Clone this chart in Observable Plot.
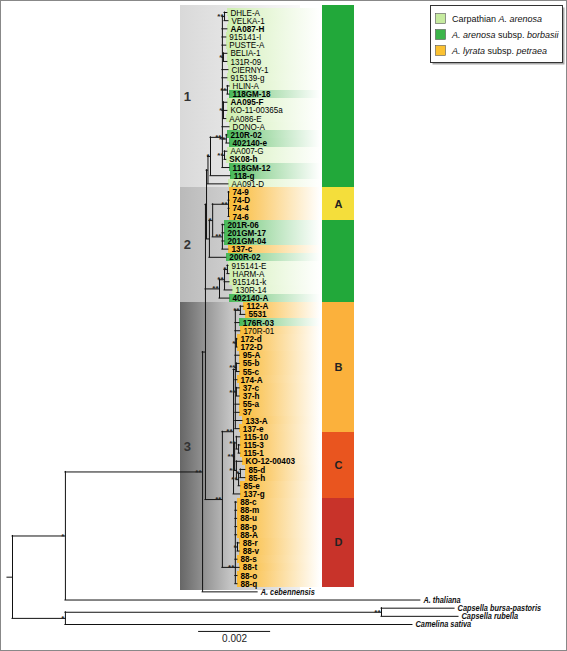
<!DOCTYPE html>
<html><head><meta charset="utf-8">
<script src="https://cdn.jsdelivr.net/npm/d3@7"></script>
<script src="https://cdn.jsdelivr.net/npm/@observablehq/plot@0.6"></script>
<style>html,body{margin:0;padding:0;background:#fff}</style>
</head><body><div id="chart"></div>
<script>
// ---------- DATA ----------
// depth = distance from root in 10^-3 substitutions/site
// internal nodes: [id, parent, depth, support, optional drawn row position]
const internalNodes = [
  ["root", null, 0, ""],
  ["N1", "root", 1.47, "*"],
  ["N2", "root", 1.47, "*"],
  ["N3", "N1", 5.28, "**"],
  ["Ncap", "N2", 10.25, "**"],
  ["Nar", "N3", 5.36, ""],
  ["K", "Nar", 5.39, ""],
  ["C1", "K", 5.43, ""],
  ["P", "C1", 5.50, "*"],
  ["Q", "P", 5.83, "**", 15.3],
  ["DV", "Q", 5.89, "**"],
  ["BC", "Q", 5.86, "*"],
  ["HL", "Q", 5.97, "**"],
  ["AK", "Q", 5.86, "*"],
  ["R", "Q", 5.94, "**"],
  ["S", "Q", 5.89, "**"],
  ["U", "K", 5.47, ""],
  ["T", "U", 5.56, "*"],
  ["G74", "T", 6.00, "**"],
  ["G201", "T", 5.83, "**"],
  ["V4", "Nar", 5.75, "**"],
  ["V2", "V4", 5.89, "**"],
  ["V1", "V2", 5.97, "*"],
  ["X", "Nar", 5.83, "**"],
  ["Y", "X", 6.14, "**"],
  ["B", "Y", 6.19, ""],
  ["nB1", "B", 6.33, "**"],
  ["n172", "B", 6.22, "*"],
  ["n55", "B", 6.22, "**"],
  ["n37", "B", 6.22, "**"],
  ["Csub", "Y", 6.17, "**"],
  ["c_b", "Csub", 6.22, "**"],
  ["c_a", "c_b", 6.28, ""],
  ["c_f", "Csub", 6.22, "**"],
  ["c_e", "c_f", 6.28, "**"],
  ["c_d", "c_e", 6.33, "*"],
  ["Z88", "X", 6.19, "**", 68],
  ["n88rv", "Z88", 6.25, "*"]
];

// leaves: [name, parent, depth, group (c = Carpathian A. arenosa, b = A. arenosa subsp. borbasii, p = A. lyrata subsp. petraea), bold]
const clade1Leaves = [
  ["DHLE-A", "DV", 5.97, "c", 0], ["VELKA-1", "DV", 6.00, "c", 0], ["AA087-H", "Q", 5.97, "c", 1],
  ["915141-I", "Q", 5.94, "c", 0], ["PUSTE-A", "Q", 5.94, "c", 0], ["BELIA-1", "BC", 5.97, "c", 0],
  ["131R-09", "BC", 5.97, "c", 0], ["CIERNY-1", "Q", 6.00, "c", 0], ["915139-g", "Q", 5.97, "c", 0],
  ["HLIN-A", "HL", 6.03, "c", 0], ["118GM-18", "HL", 6.03, "b", 1], ["AA095-F", "AK", 5.97, "c", 1],
  ["KO-11-00365a", "AK", 5.97, "c", 0], ["AA086-E", "AK", 5.94, "c", 0], ["DONO-A", "Q", 6.03, "c", 0],
  ["210R-02", "R", 5.97, "b", 1], ["402140-e", "R", 6.03, "b", 1], ["AA007-G", "S", 5.97, "c", 0],
  ["SK08-h", "S", 5.94, "c", 1], ["118GM-12", "Q", 6.03, "b", 1], ["118-g", "P", 6.06, "b", 1],
  ["AA091-D", "C1", 6.00, "c", 0]
];
const clade2Leaves = [
  ["74-9", "G74", 6.03, "p", 1], ["74-D", "G74", 6.03, "p", 1], ["74-4", "G74", 6.03, "p", 1],
  ["74-6", "G74", 6.03, "p", 1], ["201R-06", "G201", 5.89, "b", 1], ["201GM-17", "G201", 5.89, "b", 1],
  ["201GM-04", "G201", 5.89, "b", 1], ["137-c", "G201", 6.00, "p", 1], ["200R-02", "U", 5.94, "b", 1],
  ["915141-E", "V1", 6.00, "c", 0], ["HARM-A", "V1", 6.03, "c", 0], ["915141-k", "V2", 6.03, "c", 0],
  ["130R-14", "V2", 6.11, "c", 0], ["402140-A", "V4", 6.03, "b", 1]
];
const clade3Leaves = [
  ["112-A", "nB1", 6.42, "p", 1], ["5531", "nB1", 6.47, "p", 1], ["176R-03", "B", 6.31, "b", 1],
  ["170R-01", "B", 6.33, "p", 0], ["172-d", "n172", 6.25, "p", 1], ["172-D", "n172", 6.25, "p", 1],
  ["95-A", "B", 6.31, "p", 1], ["55-b", "n55", 6.31, "p", 1], ["55-c", "n55", 6.31, "p", 1],
  ["174-A", "B", 6.25, "p", 1], ["37-c", "n37", 6.31, "p", 1], ["37-h", "n37", 6.31, "p", 1],
  ["55-a", "B", 6.31, "p", 1], ["37", "B", 6.31, "p", 1], ["133-A", "B", 6.39, "p", 1],
  ["137-e", "B", 6.31, "p", 1], ["115-10", "c_b", 6.33, "p", 1], ["115-3", "c_a", 6.33, "p", 1],
  ["115-1", "c_a", 6.33, "p", 1], ["KO-12-00403", "c_f", 6.39, "p", 1], ["85-d", "c_d", 6.47, "p", 1],
  ["85-h", "c_d", 6.47, "p", 1], ["85-e", "c_e", 6.33, "p", 1], ["137-g", "Y", 6.33, "p", 1],
  ["88-c", "Z88", 6.24, "p", 1], ["88-m", "Z88", 6.24, "p", 1], ["88-u", "Z88", 6.24, "p", 1],
  ["88-p", "Z88", 6.24, "p", 1], ["88-A", "Z88", 6.24, "p", 1], ["88-r", "n88rv", 6.31, "p", 1],
  ["88-v", "n88rv", 6.31, "p", 1], ["88-s", "Z88", 6.25, "p", 1], ["88-t", "Z88", 6.31, "p", 1],
  ["88-o", "Z88", 6.25, "p", 1], ["88-q", "Z88", 6.25, "p", 1]
];
const outgroupLeaves = [
  ["A. cebennensis", "N3", 6.81, "o", 1], ["A. thaliana", "N1", 11.33, "o", 1],
  ["Capsella bursa-pastoris", "Ncap", 12.28, "o", 1], ["Capsella rubella", "Ncap", 12.39, "o", 1],
  ["Camelina sativa", "N2", 11.11, "o", 1]
];
const rootStub = 0.14;

const cladeBoxes = [["1", 0, 21], ["2", 22, 35], ["3", 36, 70]];
const barSegments = [
  ["", 0, 21, "#22a83a"], ["A", 22, 25, "#f4de3b"], ["", 26, 35, "#22a83a"],
  ["B", 36, 51, "#fbb13c"], ["C", 52, 59, "#e9551f"], ["D", 60, 70, "#c8332a"]
];
const legendItems = [
  {color: "#c6eb9f", parts: [["Carpathian ", false], ["A. arenosa", true]]},
  {color: "#3cb54a", parts: [["A. arenosa", true], [" subsp. ", false], ["borbasii", true]]},
  {color: "#fbc131", parts: [["A. lyrata", true], [" subsp. ", false], ["petraea", true]]}
];
const scaleBarLength = 2; // 0.002 substitutions/site

// ---------- LAYOUT CONSTANTS ----------
const FONT = "'Liberation Sans',Arial,sans-serif";
const boxLeft = 4.67, boxRight = 8.0, labelBgRight = 8.56, barLeft = 8.61, barRight = 9.5, cladeNumX = 4.86;
const scaleX0 = 5.17, scaleY = 75.85, scaleLabelY = 76.75;

// ---------- TREE ----------
const leaves = [...clade1Leaves, ...clade2Leaves, ...clade3Leaves, ...outgroupLeaves]
  .map(([name, parent, depth, group, bold], i) => ({name, parent, depth, group, bold: !!bold, i, y: i, leaf: true}));
const nodes = internalNodes.map(([id, parent, depth, support, yAt]) => ({id, parent, depth, support, yAt, children: []}));
const byId = new Map(nodes.map(n => [n.id, n]));
for (const n of nodes) if (n.parent) byId.get(n.parent).children.push(n);
for (const l of leaves) byId.get(l.parent).children.push(l);
function layout(n) {
  if (n.leaf) return n.y;
  const ys = n.children.map(layout);
  n.ymin = Math.min(...ys); n.ymax = Math.max(...ys);
  n.y = n.yAt ?? (n.ymin + n.ymax) / 2;
  return n.y;
}
const root = byId.get("root");
layout(root);
const horiz = [...nodes, ...leaves].filter(n => n.parent).map(n => ({y: n.y, x1: byId.get(n.parent).depth, x2: n.depth}));
horiz.push({y: root.y, x1: -rootStub, x2: 0});
const vert = nodes.map(n => ({x: n.depth, y1: n.ymin, y2: n.ymax}));
const supported = nodes.filter(n => n.support);

const inLeaves = leaves.filter(l => l.group !== "o");
const outLeaves = leaves.filter(l => l.group === "o");
const boxRows = cladeBoxes.map(([label, a, b], k) => ({
  label, k, y1: a - 0.5 - (k === 0 ? 0.4 : 0), y2: b + 0.5 + (k === 2 ? 0.35 : 0)
}));
const barRows = barSegments.map(([label, a, b, color], k) => ({label, color, y1: a - 0.5 - (k === 0 ? 0.3 : 0), y2: b + 0.5}));

const bgRect = g => Plot.rect(inLeaves.filter(l => l.group === g), {
  x1: "depth", x2: () => labelBgRight, y1: d => d.i - 0.5, y2: d => d.i + 0.5,
  fill: `url(#bg-${g})`, shapeRendering: "crispEdges"
});

const chart = Plot.plot({
  width: 567, height: 651, margin: 0,
  x: {domain: [-12 / 36, 555 / 36], range: [0, 567], axis: null},
  y: {domain: [-12 / 8.16, 639 / 8.16], range: [0, 651], axis: null},
  style: {fontFamily: FONT, background: "#fff"},
  marks: [
    ...boxRows.map(b => Plot.rect([b], {x1: () => boxLeft, x2: () => boxRight, y1: "y1", y2: "y2", fill: `url(#gray${b.k})`, shapeRendering: "crispEdges"})),
    bgRect("c"), bgRect("b"), bgRect("p"),
    ...barRows.map(b => Plot.rect([b], {x1: () => barLeft, x2: () => barRight, y1: "y1", y2: "y2", fill: b.color, shapeRendering: "crispEdges"})),
    Plot.text(barRows.filter(b => b.label), {x: () => (barLeft + barRight) / 2, y: d => (d.y1 + d.y2) / 2, text: "label", fontSize: 11, fontWeight: "bold", fill: "#222"}),
    Plot.ruleY(horiz, {y: "y", x1: "x1", x2: "x2", stroke: "#111", strokeWidth: 1, strokeLinecap: "square"}),
    Plot.ruleX(vert, {x: "x", y1: "y1", y2: "y2", stroke: "#111", strokeWidth: 1, strokeLinecap: "square"}),
    Plot.text(supported, {x: "depth", y: "y", text: "support", textAnchor: "end", dx: -1, fontSize: 8, fontWeight: "bold", fill: "#222"}),
    Plot.text(inLeaves.filter(l => !l.bold), {x: "depth", y: "y", text: "name", textAnchor: "start", dx: 3, fontSize: 9.5, fill: "#000"}),
    Plot.text(inLeaves.filter(l => l.bold), {x: "depth", y: "y", text: "name", textAnchor: "start", dx: 3, fontSize: 9.5, fontWeight: "bold", fill: "#000"}),
    Plot.text(outLeaves, {x: "depth", y: "y", text: "name", textAnchor: "start", dx: 3, fontSize: 9, fontWeight: "bold", fontStyle: "italic", fill: "#111"}),
    Plot.text(boxRows, {x: () => cladeNumX, y: d => (d.y1 + d.y2) / 2, text: "label", fontSize: 13, fontWeight: "bold", fill: "#333"}),
    Plot.ruleY([{y: scaleY, x1: scaleX0, x2: scaleX0 + scaleBarLength}], {y: "y", x1: "x1", x2: "x2", stroke: "#111"}),
    Plot.text([{x: scaleX0 + scaleBarLength / 2, y: scaleLabelY, t: String(scaleBarLength / 1000)}], {x: "x", y: "y", text: "t", fontSize: 10, fill: "#222"})
  ]
});

// ---------- condensed leaf text, gradients, legend, frame ----------
const svg = d3.select(chart);
const squeeze = new Map([
  ...inLeaves.map(l => [l.name, l.bold ? 0.86 : 0.85]),
  ...outLeaves.map(l => [l.name, 0.82])
]);
svg.selectAll("text").each(function () {
  const s = squeeze.get(this.textContent);
  if (s === undefined) return;
  const tr = this.getAttribute("transform") || "";
  const x = this.getAttribute("x");
  if (x !== null && !isNaN(+x) && +x !== 0) return; // only squeeze when positioned by transform
  this.setAttribute("transform", `${tr} scale(${s},1)`);
});

const defs = svg.insert("defs", ":first-child");
function grad(id, stops) {
  const g = defs.append("linearGradient").attr("id", id).attr("x1", "0").attr("x2", "1").attr("y1", "0").attr("y2", "0");
  for (const [o, c] of stops) g.append("stop").attr("offset", o).attr("stop-color", c);
}
grad("bg-c", [["0%", "#cdeeae"], ["35%", "#e3f5d2"], ["100%", "#ffffff"]]);
grad("bg-b", [["0%", "#45b757"], ["35%", "#9fd9a3"], ["100%", "#ffffff"]]);
grad("bg-p", [["0%", "#f9bc37"], ["35%", "#fbd07a"], ["100%", "#ffffff"]]);
grad("gray0", [["0%", "#d9d9d9"], ["45%", "#e6e6e6"], ["100%", "#f8f8f8"]]);
grad("gray1", [["0%", "#bababa"], ["45%", "#d0d0d0"], ["100%", "#f0f0f0"]]);
grad("gray2", [["0%", "#676767"], ["42%", "#c4c4c4"], ["100%", "#f0f0f0"]]);

const lg = svg.append("g").attr("font-family", FONT).attr("font-size", 9).attr("text-anchor", "start");
lg.append("rect").attr("x", 432.5).attr("y", 7.5).attr("width", 132).attr("height", 57).attr("fill", "#aaa");
lg.append("rect").attr("x", 430.5).attr("y", 5.5).attr("width", 132).attr("height", 57).attr("fill", "#fff").attr("stroke", "#333");
legendItems.forEach((it, k) => {
  const cy = 18.5 + k * 16;
  lg.append("rect").attr("x", 435.5).attr("y", cy - 5).attr("width", 10).attr("height", 10).attr("fill", it.color).attr("stroke", "#555").attr("stroke-width", 0.6);
  const t = lg.append("text").attr("x", 452).attr("y", cy + 3.2).attr("fill", "#111");
  for (const [s, ital] of it.parts) t.append("tspan").attr("font-style", ital ? "italic" : "normal").text(s);
});
svg.append("rect").attr("x", 0.5).attr("y", 0.5).attr("width", 566).attr("height", 650).attr("fill", "none").attr("stroke", "#888");

document.getElementById("chart").appendChild(chart);
</script></body></html>
